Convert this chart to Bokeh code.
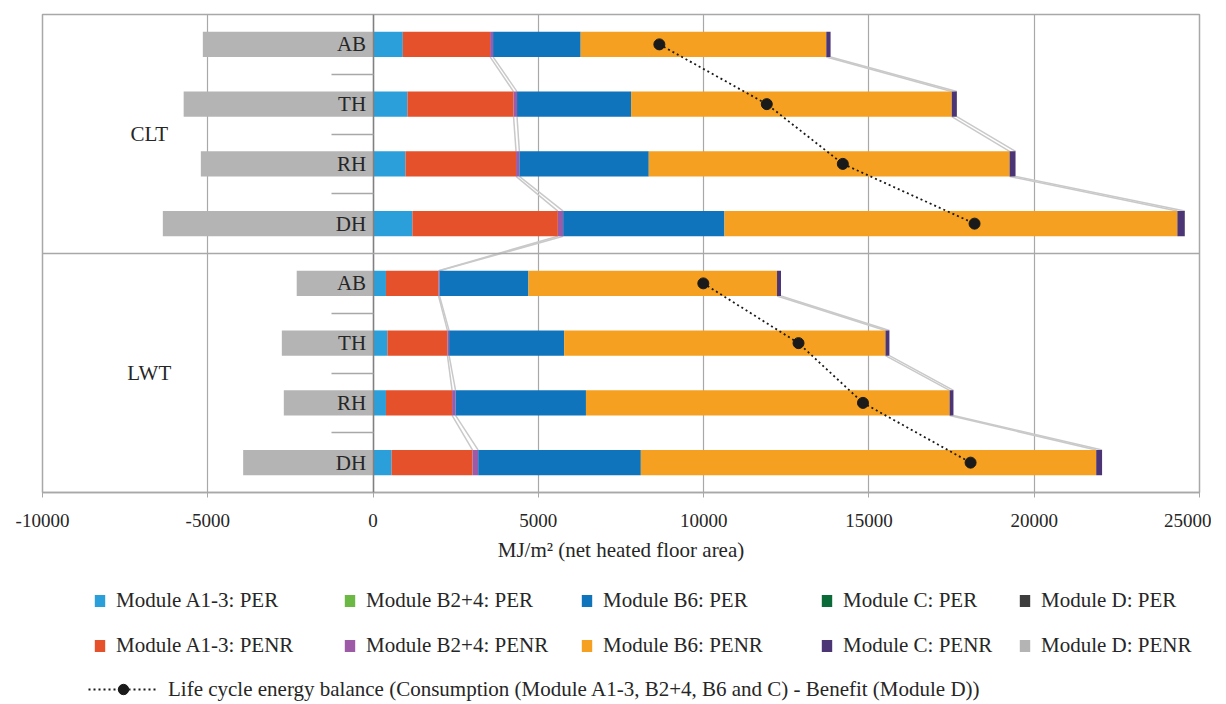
import numpy as np
from bokeh.plotting import figure
from bokeh.layouts import column
from bokeh.models import (ColumnDataSource, Range1d, LinearAxis, FixedTicker, Span,
                          Legend, LegendItem)
from bokeh.core.properties import value
from bokeh.embed import file_html
from bokeh.resources import INLINE

# ---------------- data (MJ/m2 net heated floor area) ----------------
groups = ["CLT", "LWT"]
types = ["AB", "TH", "RH", "DH"]
a13_per  = [900, 1040, 980, 1190, 390, 435, 390, 560]
a13_penr = [2640, 3210, 3345, 4400, 1590, 1815, 2000, 2450]
b24_per  = [0, 0, 0, 0, 0, 0, 0, 0]
b24_penr = [90, 105, 100, 160, 30, 50, 105, 170]
b6_per   = [2650, 3450, 3915, 4880, 2690, 3480, 3945, 4920]
b6_penr  = [7430, 9700, 10915, 13700, 7520, 9720, 11000, 13775]
c_per    = [0, 0, 0, 0, 0, 0, 0, 0]
c_penr   = [130, 155, 180, 225, 120, 120, 117, 178]
d_per    = [0, 0, 0, 0, 0, 0, 0, 0]
d_penr   = [-5150, -5730, -5210, -6360, -2310, -2760, -2700, -3930]
lcb      = [8660, 11910, 14210, 18195, 9990, 12870, 14820, 18075]
x_ticks  = [-10000, -5000, 0, 5000, 10000, 15000, 20000, 25000]

series_labels = [
    "Module A1-3: PER", "Module A1-3: PENR", "Module B2+4: PER", "Module B2+4: PENR",
    "Module B6: PER", "Module B6: PENR", "Module C: PER", "Module C: PENR",
    "Module D: PER", "Module D: PENR",
]
series_colors = [
    "#2b9fd9", "#e5512a", "#6cb844", "#9c5aa7",
    "#0f74bb", "#f5a021", "#0b6b38", "#4b3575",
    "#3d3d3d", "#b4b4b4",
]
lcb_label = "Life cycle energy balance (Consumption (Module A1-3, B2+4, B6 and C) - Benefit (Module D))"

# ---------------- layout helpers ----------------
FONT = "Liberation Serif"
TXT = "#262626"
GRID = "#a8a8a8"
n = len(a13_per)
ngrp = len(types)
ypos = [i + 0.5 for i in range(n)]
bar_labels = [types[i % ngrp] for i in range(n)]
H = 0.42
FW, FH = 1157, 478
ML, MR, MT, MB = 42, 12, 14, 80
W = ML + FW + MR

src = ColumnDataSource(dict(
    y=ypos, a13_per=a13_per, a13_penr=a13_penr, b24_per=b24_per, b24_penr=b24_penr,
    b6_per=b6_per, b6_penr=b6_penr, c_per=c_per, c_penr=c_penr,
    d_per=d_per, d_penr=d_penr, lcb=lcb,
))

p = figure(frame_width=FW, frame_height=FH,
           x_range=Range1d(x_ticks[0], x_ticks[-1]), y_range=Range1d(n, 0),
           output_backend="svg", toolbar_location=None,
           min_border_left=ML, min_border_right=MR, min_border_top=MT, min_border_bottom=MB,
           y_axis_location=None,
           background_fill_color="white", border_fill_color="white",
           outline_line_color=GRID, outline_line_width=1.5)

# ---------------- series lines (grey connectors) ----------------
stack_arr = np.array([a13_per, a13_penr, b24_per, b24_penr, b6_per, b6_penr, c_per, c_penr], dtype=float)
cum = np.cumsum(stack_arr, axis=0)
left_series = [cum[2], cum[3]]
right_series = [cum[6], cum[7]]
sx0, sy0, sx1, sy1 = [], [], [], []
for ser in left_series:
    for i in range(n - 1):
        sx0.append(ser[i]); sy0.append(ypos[i] + H / 2)
        sx1.append(ser[i + 1]); sy1.append(ypos[i + 1] - H / 2)
for ser in right_series:
    for i in range(n - 1):
        if (i + 1) % ngrp == 0:
            continue
        sx0.append(ser[i]); sy0.append(ypos[i] + H / 2)
        sx1.append(ser[i + 1]); sy1.append(ypos[i + 1] - H / 2)
p.segment(x0=sx0, y0=sy0, x1=sx1, y1=sy1, line_color="#c9c9c9", line_width=1.5)

# ---------------- bars ----------------
stackers = ["a13_per", "a13_penr", "b24_per", "b24_penr", "b6_per", "b6_penr", "c_per", "c_penr"]
rs = p.hbar_stack(stackers, y="y", height=H, fill_color=series_colors[:8],
                  line_color=None, source=src)
rd_per = p.hbar(y="y", left=0, right="d_per", height=H, fill_color=series_colors[8],
                line_color=None, source=src)
rd_penr = p.hbar(y="y", left=0, right="d_penr", height=H, fill_color=series_colors[9],
                 line_color=None, source=src)

# ---------------- life cycle balance ----------------
for g in range(len(groups)):
    sl = slice(g * ngrp, (g + 1) * ngrp)
    p.line(x=lcb[sl], y=ypos[sl], line_color="#1a1a1a", line_width=1.8, line_dash="2 3")
p.scatter(x="lcb", y="y", size=11, fill_color="#1a1a1a", line_color="#1a1a1a", source=src)

# ---------------- group separator & group labels ----------------
p.add_layout(Span(location=ngrp, dimension="width", line_color=GRID, line_width=1.5))
grp_y = [float(np.mean(ypos[g * ngrp:(g + 1) * ngrp])) for g in range(len(groups))]
p.text(x=[-6770] * len(groups), y=grp_y, text=groups, text_font=value(FONT),
       text_font_size="21px", text_align="center", text_baseline="middle", text_color=TXT)

# ---------------- axes ----------------
p.xgrid.grid_line_color = GRID
p.xgrid.grid_line_width = 1.2
p.ygrid.visible = False
xa = p.xaxis[0]
xa.ticker = FixedTicker(ticks=x_ticks)
xa.major_label_overrides = {t: str(t) for t in x_ticks if t < 0}
xa.axis_line_color = GRID
xa.axis_line_width = 1.5
xa.major_tick_line_color = GRID
xa.major_tick_out = 5
xa.major_tick_in = 0
xa.minor_tick_line_color = None
xa.major_label_standoff = 16
xa.major_label_text_font = FONT
xa.major_label_text_font_size = "19px"
xa.major_label_text_color = TXT
xa.axis_label = "MJ/m\u00b2 (net heated floor area)"
xa.axis_label_text_font = FONT
xa.axis_label_text_font_size = "21px"
xa.axis_label_text_font_style = "normal"
xa.axis_label_text_color = TXT
xa.axis_label_standoff = 8

boundaries = [float(i) for i in range(1, n) if i % ngrp != 0]
ya = LinearAxis(fixed_location=0,
                ticker=FixedTicker(ticks=ypos, minor_ticks=boundaries),
                major_label_overrides={ypos[i]: bar_labels[i] for i in range(n)})
ya.axis_line_color = "#808080"
ya.axis_line_width = 1.5
ya.major_tick_out = 0
ya.major_tick_in = 0
ya.minor_tick_out = 42
ya.minor_tick_in = 0
ya.minor_tick_line_color = GRID
ya.minor_tick_line_width = 1.5
ya.major_label_standoff = -35
ya.major_label_text_font = FONT
ya.major_label_text_font_size = "21px"
ya.major_label_text_color = TXT
p.add_layout(ya, "left")

# ---------------- legend figure ----------------
LH = 130
lf = figure(width=W, height=LH, x_range=Range1d(0, W), y_range=Range1d(0, LH),
            min_border=0, x_axis_location=None, y_axis_location=None,
            outline_line_color=None, toolbar_location=None, output_backend="svg",
            background_fill_color="white", border_fill_color="white")
lf.grid.visible = False
nan = [float("nan")]
proxy = [lf.hbar(y=nan, left=nan, right=nan, height=1, fill_color=c, line_color=None)
         for c in series_colors]
proxy_line = lf.line(x=nan, y=nan, line_color="#1a1a1a", line_width=1.8, line_dash="2 3")
proxy_dot = lf.scatter(x=nan, y=nan, size=11, fill_color="#1a1a1a", line_color="#1a1a1a")

leg_common = dict(orientation="vertical", padding=0, margin=0, spacing=20,
                  glyph_width=13, glyph_height=15, label_height=24, label_standoff=10,
                  border_line_color=None, background_fill_alpha=0,
                  label_text_font=FONT, label_text_font_size="21px", label_text_color=TXT)
col_x = [93, 343, 580, 820, 1018]
for j in range(5):
    items = [LegendItem(label=series_labels[2 * j], renderers=[proxy[2 * j]]),
             LegendItem(label=series_labels[2 * j + 1], renderers=[proxy[2 * j + 1]])]
    lf.add_layout(Legend(items=items, location=(col_x[j] - ML, 44), **leg_common), "center")

leg_line = Legend(items=[LegendItem(label=lcb_label, renderers=[proxy_line, proxy_dot])],
                  location=(88 - ML, 0), orientation="vertical", padding=0, margin=0,
                  glyph_width=70, glyph_height=26, label_height=24, label_standoff=10,
                  border_line_color=None, background_fill_alpha=0,
                  label_text_font=FONT, label_text_font_size="21px", label_text_color=TXT)
lf.add_layout(leg_line, "center")

layout = column(p, lf, spacing=0)
open("out.html", "w").write(file_html(layout, INLINE))
